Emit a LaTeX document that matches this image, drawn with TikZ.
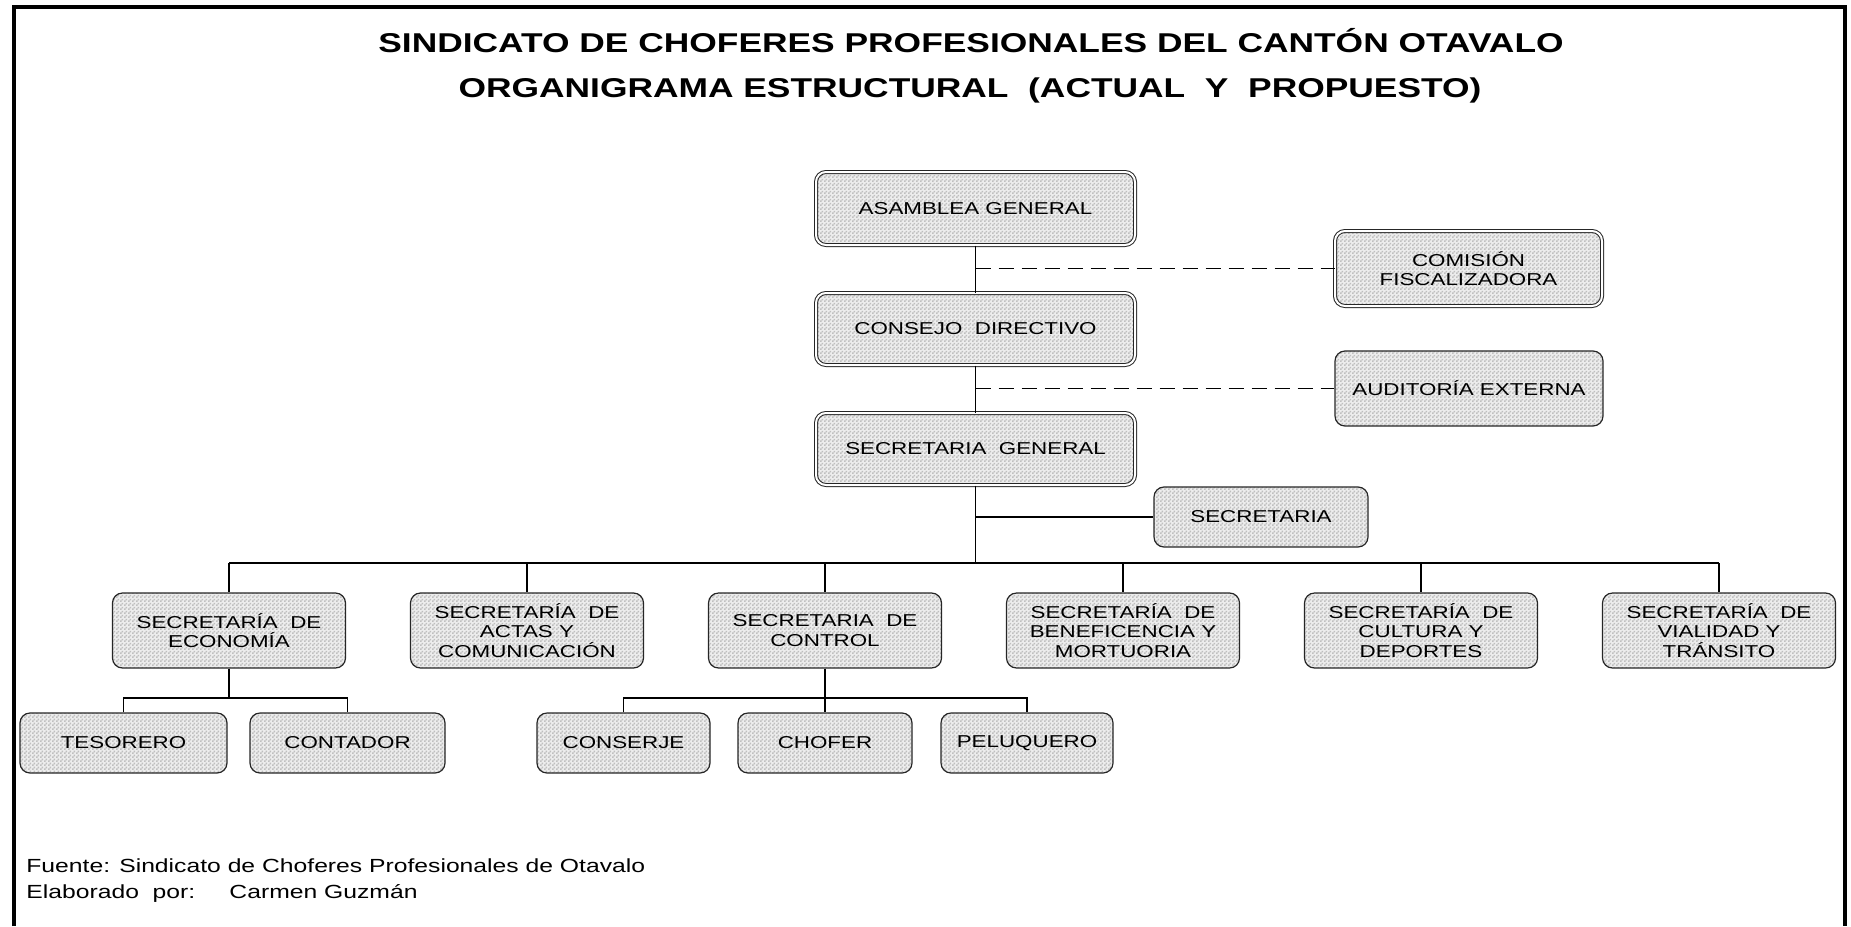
\documentclass[tikz,border=0pt]{standalone}
\usepackage{fontspec}
\setmainfont{Liberation Sans}[FakeStretch=1.3]
\usetikzlibrary{patterns}

\pgfdeclarepatternformonly{finecheck}{\pgfpointorigin}{\pgfpoint{2pt}{2pt}}{\pgfpoint{2pt}{2pt}}{%
  \pgfpathrectangle{\pgfpointorigin}{\pgfpoint{1pt}{1pt}}%
  \pgfpathrectangle{\pgfpoint{1pt}{1pt}}{\pgfpoint{1pt}{1pt}}%
  \pgfusepath{fill}}

\tikzset{
  cargo/.style={draw=black!85, line width=0.6pt, rounded corners=5pt,
    preaction={fill=gray!14}, pattern=finecheck, pattern color=gray!50,
    align=center, inner sep=0pt, font=\fontsize{8.6}{9.6}\selectfont},
  cargodoble/.style={cargo, double, double distance=1pt, line width=0.5pt},
  linea/.style={line width=0.8pt},
  enlace/.style={line width=0.8pt, dash pattern=on 7.5pt off 4pt},
  pie/.style={anchor=west, inner sep=0pt, font=\fontsize{9.5}{11}\selectfont},
}

\begin{document}
\begin{tikzpicture}[x=0.5pt, y=-0.5pt]
	\useasboundingbox (0,0) rectangle (1851,926);
	\draw[line width=2pt] (13.5,926) |- (1845,7) -- (1845,926);

	\node[font=\bfseries\fontsize{13.6}{15}\selectfont] (titulo) at (971,41) {SINDICATO DE CHOFERES PROFESIONALES DEL CANTÓN OTAVALO};
	\node[font=\bfseries\fontsize{13.6}{15}\selectfont] (subtitulo) at (970,90) {ORGANIGRAMA ESTRUCTURAL~ (ACTUAL~ Y~ PROPUESTO)};

	\node[cargodoble, minimum width=159.5pt, minimum height=36.5pt] (asamblea) at (975.5,208.5) {ASAMBLEA GENERAL};
	\node[cargodoble, minimum width=159.5pt, minimum height=36pt] (consejo) at (975.5,329) {CONSEJO~ DIRECTIVO};
	\node[cargodoble, minimum width=159.5pt, minimum height=36pt] (secgeneral) at (975.5,449) {SECRETARIA~ GENERAL};
	\node[cargodoble, minimum width=133.5pt, minimum height=37.5pt] (comision) at (1468.5,268.5) {COMISIÓN\\FISCALIZADORA};
	\node[cargo, minimum width=134pt, minimum height=37.5pt] (auditoria) at (1469,388.5) {AUDITORÍA EXTERNA};
	\node[cargo, minimum width=107pt, minimum height=30pt] (secretaria) at (1261,517) {SECRETARIA};

	\foreach \nombre/\x/\texto in {economia/229/{SECRETARÍA~ DE\\ECONOMÍA},
		actas/527/{SECRETARÍA~ DE\\ACTAS Y\\COMUNICACIÓN},
		control/825/{SECRETARIA~ DE\\CONTROL},
		beneficencia/1123/{SECRETARÍA~ DE\\BENEFICENCIA Y\\MORTUORIA},
		cultura/1421/{SECRETARÍA~ DE\\CULTURA Y\\DEPORTES},
		vialidad/1719/{SECRETARÍA~ DE\\VIALIDAD Y\\TRÁNSITO}}
		\node[cargo, minimum width=116.5pt, minimum height=37.5pt] (\nombre) at (\x,630.5) {\texto};

	\node[cargo, minimum width=103.5pt, minimum height=30pt] (tesorero) at (123.5,743) {TESORERO};
	\node[cargo, minimum width=97.5pt, minimum height=30pt] (contador) at (347.5,743) {CONTADOR};
	\node[cargo, minimum width=86.5pt, minimum height=30pt] (conserje) at (623.5,743) {CONSERJE};
	\node[cargo, minimum width=87pt, minimum height=30pt] (chofer) at (825,743) {CHOFER};
	\node[cargo, minimum width=86pt, minimum height=30pt] (peluquero) at (1027,743) {PELUQUERO};

	\draw[linea] (asamblea.south) -- (consejo.north);
	\draw[linea] (consejo.south) -- (secgeneral.north);
	\draw[enlace] (asamblea.south |- comision.west) -- (comision.west);
	\draw[enlace] (consejo.south |- auditoria.west) -- (auditoria.west);
	\draw[linea] (secgeneral.south |- secretaria.west) -- (secretaria.west);

	\coordinate (bus) at (975.5,563);
	\draw[linea] (secgeneral.south) -- (bus);
	\draw[linea] (economia.north |- bus) -- (vialidad.north |- bus);
	\foreach \nombre in {economia,actas,control,beneficencia,cultura,vialidad}
		\draw[linea] (\nombre.north |- bus) -- (\nombre.north);

	\coordinate (buseconomia) at (229,698);
	\draw[linea] (economia.south) -- (buseconomia);
	\draw[linea] (tesorero.north) |- (buseconomia) -| (contador.north);
	\coordinate (buscontrol) at (825,698);
	\draw[linea] (control.south) -- (chofer.north);
	\draw[linea] (conserje.north) |- (buscontrol) -| (peluquero.north);

	\node[pie] (fuente) at (26,866) {Fuente: Sindicato de Choferes Profesionales de Otavalo};
	\node[pie] (elaborado) at (26,893) {Elaborado~ por:\hspace{1.8em}Carmen Guzmán};
\end{tikzpicture}
\end{document}
